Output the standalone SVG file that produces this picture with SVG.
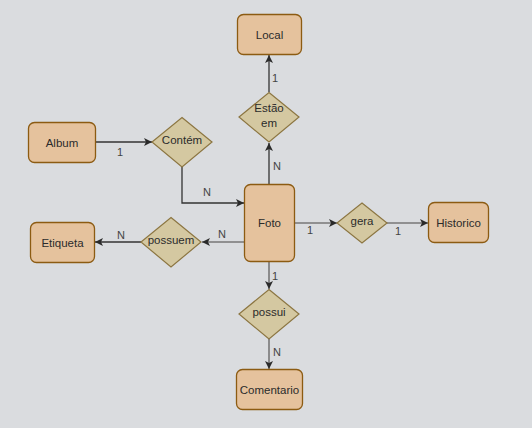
<svg xmlns="http://www.w3.org/2000/svg" width="532" height="428" viewBox="0 0 532 428">
<style>
.ent{fill:#e5c29d;stroke:#8c5b12;stroke-width:1.3}
.rel{fill:#d4c8a1;stroke:#8c7642;stroke-width:1.2}
.t{font-family:"Liberation Sans",Arial,sans-serif;font-size:11.5px;fill:#2b2b2b;text-anchor:middle;dominant-baseline:central}
.lb{font-family:"Liberation Sans",Arial,sans-serif;font-size:11px;fill:#444;text-anchor:middle;dominant-baseline:central}
.c{fill:none;stroke:#333;stroke-width:1.3}
.g{fill:none;stroke:#777;stroke-width:1.6}
</style>
<defs>
<marker id="a" markerWidth="10" markerHeight="10" refX="9" refY="5" orient="auto" markerUnits="userSpaceOnUse">
<path d="M1,1 L9,5 L1,9 L3,5 Z" fill="#2a2a2a"/>
</marker>
</defs>
<rect width="532" height="428" fill="#dadcdf"/>
<g id="connectors">
<path class="c" d="M269,92 L269,55" marker-end="url(#a)"/>
<path class="c" d="M269,184 L269,143" marker-end="url(#a)"/>
<path class="c" d="M96,142 L152,142" marker-end="url(#a)"/>
<path class="c" d="M182,167 L182,203 L244,203" marker-end="url(#a)"/>
<path class="g" d="M244,242 L202,242" marker-end="url(#a)"/>
<path class="c" d="M141,242 L95,242" marker-end="url(#a)"/>
<path class="g" d="M294,223 L337,223" marker-end="url(#a)"/>
<path class="g" d="M387,223 L428,223" marker-end="url(#a)"/>
<path class="g" d="M269,261 L269,289" marker-end="url(#a)"/>
<path class="g" d="M269,339 L269,369" marker-end="url(#a)"/>
<text class="lb" x="275" y="78">1</text>
<text class="lb" x="277" y="166">N</text>
<text class="lb" x="120" y="152">1</text>
<text class="lb" x="207" y="192">N</text>
<text class="lb" x="222" y="234">N</text>
<text class="lb" x="121" y="235">N</text>
<text class="lb" x="310" y="230">1</text>
<text class="lb" x="398" y="231">1</text>
<text class="lb" x="275" y="276">1</text>
<text class="lb" x="277" y="352">N</text>
</g>
<g id="local"><rect class="ent" x="237.5" y="14.5" width="64" height="40" rx="6"/><text class="t" x="269.5" y="34.5">Local</text></g>
<g id="estao-em"><polygon class="rel" points="269,92.5 299,117 269,142 239,117"/><text class="t" x="269" y="108">Estão</text><text class="t" x="269" y="123">em</text></g>
<g id="album"><rect class="ent" x="28.5" y="122.5" width="67" height="40" rx="6"/><text class="t" x="62" y="142.5">Album</text></g>
<g id="contem"><polygon class="rel" points="182,117.5 212,142 182,167 152,142"/><text class="t" x="182" y="140">Contém</text></g>
<g id="foto"><rect class="ent" x="244.5" y="184.5" width="50" height="77" rx="6"/><text class="t" x="269.5" y="223">Foto</text></g>
<g id="etiqueta"><rect class="ent" x="30.5" y="222.5" width="64" height="40" rx="6"/><text class="t" x="62.5" y="242.5">Etiqueta</text></g>
<g id="possuem"><polygon class="rel" points="171,217.5 201,242 171,267 141,242"/><text class="t" x="171" y="240">possuem</text></g>
<g id="gera"><polygon class="rel" points="362,203 387,223 362,243 337,223"/><text class="t" x="362" y="221">gera</text></g>
<g id="historico"><rect class="ent" x="428.5" y="202.5" width="60" height="40" rx="6"/><text class="t" x="458.5" y="222.5">Historico</text></g>
<g id="possui"><polygon class="rel" points="269,289.5 299,314 269,339 239,314"/><text class="t" x="269" y="312">possui</text></g>
<g id="comentario"><rect class="ent" x="236.5" y="369.5" width="66" height="40" rx="6"/><text class="t" x="269.5" y="389.5">Comentario</text></g>
</svg>
